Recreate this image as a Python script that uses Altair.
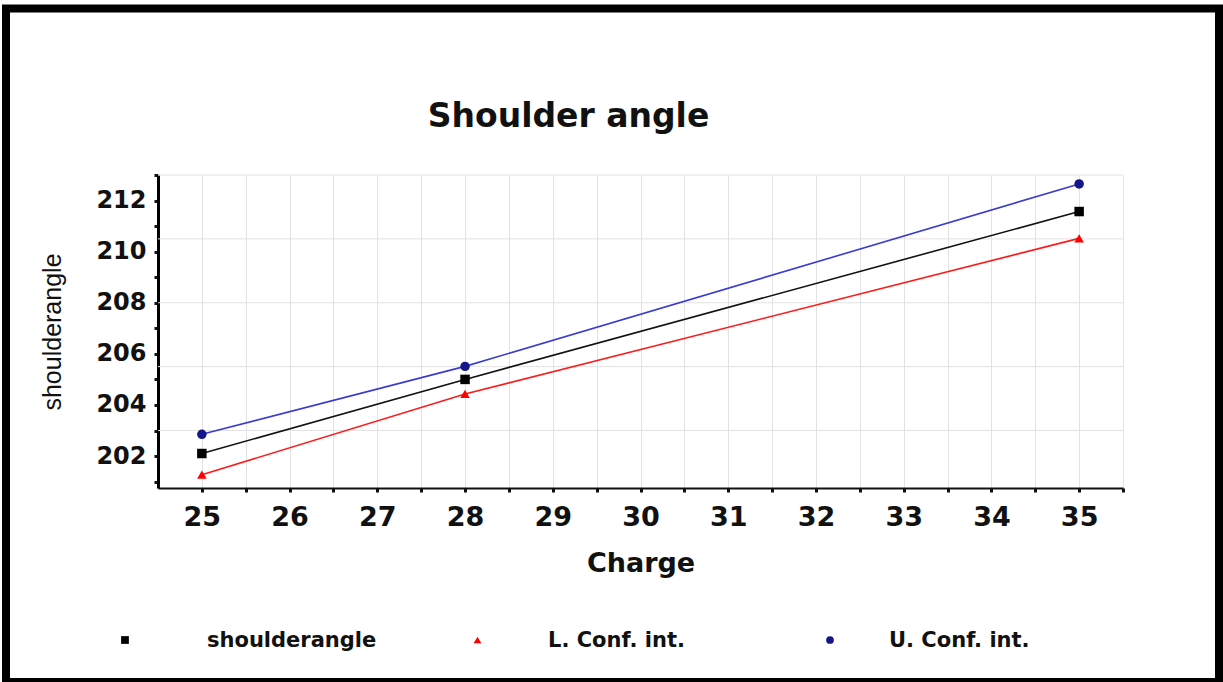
import altair as alt
import pandas as pd

# ---- data ----
charge = [25, 28, 35]
shoulderangle = [202.10, 205.00, 211.57]
lower_ci = [201.27, 204.43, 210.52]
upper_ci = [202.85, 205.51, 212.65]

series_names = ["shoulderangle", "L. Conf. int.", "U. Conf. int."]
x_tick_values = [25, 25.5, 26, 26.5, 27, 27.5, 28, 28.5, 29, 29.5, 30, 30.5,
                 31, 31.5, 32, 32.5, 33, 33.5, 34, 34.5, 35, 35.5]
y_tick_values = [201, 202, 203, 204, 205, 206, 207, 208, 209, 210, 211, 212, 213]
y_grid_values = [203, 205.5, 208, 210.5, 213]

# ---- styles ----
line_colors = ["#111111", "#ff1a1a", "#3b3bd0"]
marker_colors = ["#000000", "#ff0000", "#16168c"]
marker_shapes = ["square", "triangle-up", "circle"]

rows = []
for name, vals in zip(series_names, [shoulderangle, lower_ci, upper_ci]):
    for c, v in zip(charge, vals):
        rows.append({"Charge": c, "value": v, "series": name})
df = pd.DataFrame(rows)
legend_df = pd.DataFrame({"series": series_names})

FONT = "DejaVu Sans"
xscale = alt.Scale(domain=[24.5, 35.5], nice=False, zero=False)
yscale = alt.Scale(domain=[200.75, 213], nice=False, zero=False)
color_scale = alt.Scale(domain=series_names, range=marker_colors)
shape_scale = alt.Scale(domain=series_names, range=marker_shapes)

xaxis = alt.Axis(
    values=x_tick_values,
    labelExpr="datum.value % 1 == 0 ? format(datum.value, 'd') : ''",
    grid=True, gridColor="#e2e2e2", gridWidth=1,
    domainColor="#111111", domainWidth=2,
    tickColor="#111111", tickSize=4, tickWidth=3,
    labelFont=FONT, labelFontSize=27, labelFontWeight="bold", labelColor="#111111",
    labelPadding=12, labelOverlap=False, labelFlush=False,
    title="Charge", titleFont=FONT, titleFontSize=27, titleFontWeight="bold",
    titleColor="#111111", titlePadding=20,
)
yaxis = alt.Axis(
    values=y_tick_values,
    labelExpr="datum.value % 2 == 0 ? format(datum.value, 'd') : ''",
    grid=False,
    domainColor="#000000", domainWidth=3,
    tickColor="#111111", tickSize=4, tickWidth=3,
    labelFont=FONT, labelFontSize=24, labelFontWeight="bold", labelColor="#111111",
    labelPadding=8, labelOverlap=False, labelFlush=False,
    title="shoulderangle", titleFont="Liberation Sans", titleFontSize=25,
    titleFontWeight="normal", titleColor="#111111", titlePadding=30,
)

x_enc = alt.X("Charge:Q", scale=xscale, axis=xaxis)
y_enc = alt.Y("value:Q", scale=yscale, axis=yaxis)

lines = alt.Chart(df).mark_line(strokeWidth=1.6).encode(
    x=x_enc, y=y_enc,
    stroke=alt.Stroke("series:N", scale=alt.Scale(domain=series_names, range=line_colors), legend=None),
)

points = alt.Chart(df).mark_point(filled=True, opacity=1, size=90).encode(
    x=x_enc, y=y_enc,
    color=alt.Color("series:N", scale=color_scale, legend=None),
    shape=alt.Shape("series:N", scale=shape_scale, legend=None),
)

grid_rules = alt.Chart(pd.DataFrame({"g": y_grid_values})).mark_rule(
    color="#e2e2e2", strokeWidth=1
).encode(y=alt.Y("g:Q", scale=yscale, axis=yaxis))

border = alt.Chart(pd.DataFrame({"a": [0]})).mark_rect(
    fillOpacity=0, stroke="#000000", strokeWidth=8
).encode(x=alt.value(-152), x2=alt.value(1061), y=alt.value(-166.5), y2=alt.value(507))

main = alt.layer(grid_rules, lines, points, border)

# legend drawn below the plot, one entry per series
legend_symbols = alt.Chart(legend_df).mark_point(filled=True, opacity=1, size=60).encode(
    x=alt.X("series:N", scale=alt.Scale(type="point", domain=series_names, range=[-33, 672], padding=0), axis=None),
    y=alt.value(465),
    color=alt.Color("series:N", scale=color_scale, legend=None),
    shape=alt.Shape("series:N", scale=shape_scale, legend=None),
)
legend_labels = alt.Chart(legend_df).mark_text(
    align="left", baseline="middle", font=FONT, fontSize=21, fontWeight="bold", color="#111111"
).encode(
    x=alt.X("series:N", scale=alt.Scale(type="point", domain=series_names, range=[49, 731], padding=0), axis=None),
    y=alt.value(466),
    text="series:N",
)

chart = alt.layer(main, legend_symbols, legend_labels).resolve_scale(x="independent").properties(
    width=965, height=313,
    title=alt.TitleParams(
        "Shoulder angle", font=FONT, fontSize=33, fontWeight="bold", color="#111111",
        anchor="middle", dx=-72, dy=155, offset=0, baseline="alphabetic",
    ),
    autosize=alt.AutoSizeParams(type="none"),
    padding={"left": 158, "top": 175, "right": 100, "bottom": 194},
    background="white",
).configure_view(strokeWidth=0)

chart.save("out.html", embed_options={"renderer": "svg", "actions": False})
